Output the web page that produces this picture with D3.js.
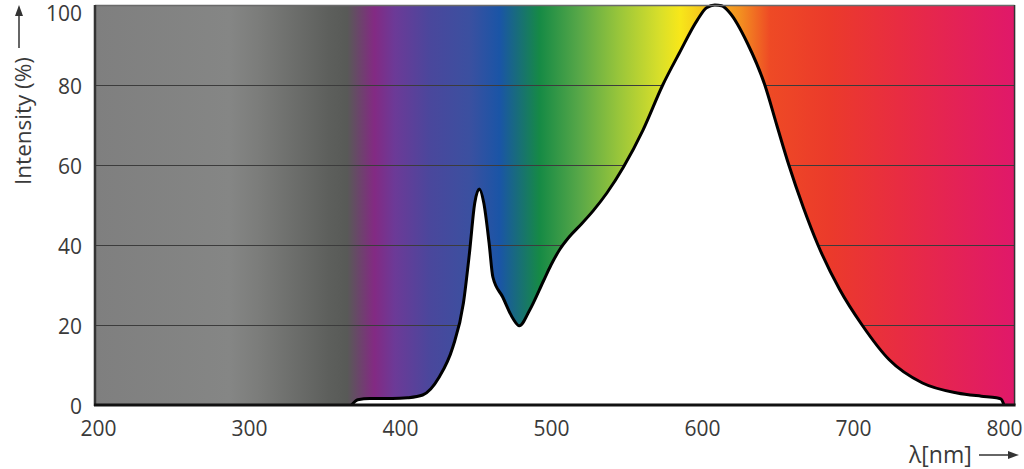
<!DOCTYPE html>
<html>
<head>
<meta charset="utf-8">
<script src="https://cdn.jsdelivr.net/npm/d3@7"></script>
<style>
  body { margin: 0; background: #fff; }
  svg { display: block; font-family: "Open Sans", sans-serif; }
</style>
</head>
<body>
<svg id="chart" width="1024" height="469"></svg>
<script>
// spectrum (wavelength in nm, relative intensity in %)
const waveNm = [368, 372, 380, 395, 405, 415, 426, 435, 442, 446, 449.5, 452.5, 455.5, 459, 461.5,
  468, 475, 479, 486, 495, 500, 506, 512, 520, 528, 537, 548, 561, 574, 585, 597, 603, 608.5, 613, 618.5,
  630, 641.6, 649.5, 657.5, 667, 676.8, 691, 706, 724, 746, 769, 785, 795, 798, 800];
const intensity = [0, 1.3, 1.6, 1.6, 1.8, 2.5, 7, 14.5, 25.5, 38, 50.5, 54, 50.5, 40.5, 32,
  27, 21.5, 19.8, 23.8, 31, 35, 39, 42, 45.2, 48.6, 53, 59.5, 68.8, 80, 88, 96.3, 99.3, 100, 99.8, 98,
  90.5, 80, 70, 60, 49.5, 40, 29, 20, 11.3, 5.5, 3, 2.2, 1.8, 1.5, 0];

// background colour band (wavelength -> colour)
const bgStopNm = [198, 287, 307, 353, 365, 383, 396.5, 420, 446, 466, 492.6, 519, 545.6, 572, 585.4,
  625, 645, 685, 731, 807];
const bgStopColor = ["#7f7f7f", "#858685", "#7b7c7a", "#5d5f5c", "#585a57", "#832a83", "#6c3a97",
  "#4a479c", "#3b50a0", "#1a55a6", "#168a45", "#58a848", "#9ac63a", "#d8df2a", "#f7e71a",
  "#f39020", "#ee4a25", "#eb3a2b", "#e82c42", "#e0186a"];

const xTicks = [200, 300, 400, 500, 600, 700, 800];
const yTicks = [0, 20, 40, 60, 80, 100];

const svg = d3.select("#chart");

const x = d3.scaleLinear().domain([200, 800]).range([98, 1004]);
const y = d3.scaleLinear().domain([0, 100]).range([405, 5]);

const xLo = 198, xHi = 807;

// gradient for the spectrum band
const grad = svg.append("defs").append("linearGradient")
    .attr("id", "spec")
    .attr("gradientUnits", "userSpaceOnUse")
    .attr("x1", x(xLo)).attr("x2", x(xHi))
    .attr("y1", 0).attr("y2", 0);

grad.selectAll("stop")
    .data(bgStopNm)
    .enter()
    .append("stop")
    .attr("offset", d => (d - xLo) / (xHi - xLo))
    .attr("stop-color", (d, i) => bgStopColor[i]);

svg.append("rect")
    .attr("x", x(xLo))
    .attr("y", y(100))
    .attr("width", x(xHi) - x(xLo))
    .attr("height", y(0) - y(100))
    .attr("fill", "url(#spec)");

// grid lines
svg.append("g")
    .selectAll("line")
    .data(yTicks.filter(v => v > 0 && v < 100))
    .enter()
    .append("line")
    .attr("x1", x(xLo))
    .attr("x2", x(xHi))
    .attr("y1", d => y(d) + 0.5)
    .attr("y2", d => y(d) + 0.5)
    .attr("stroke", "#3c3c3c")
    .attr("stroke-width", 1.2);

const pts = waveNm.map((w, i) => [w, intensity[i]]);

const area = d3.area()
    .x(d => x(d[0]))
    .y0(y(0))
    .y1(d => y(d[1]))
    .curve(d3.curveMonotoneX);

const line = d3.line()
    .x(d => x(d[0]))
    .y(d => y(d[1]))
    .curve(d3.curveMonotoneX);

svg.append("path")
    .datum(pts)
    .attr("d", area)
    .attr("fill", "#ffffff");

svg.append("path")
    .datum(pts)
    .attr("d", line)
    .attr("fill", "none")
    .attr("stroke", "#000")
    .attr("stroke-width", 3)
    .attr("stroke-linejoin", "round");

// frame
svg.append("line")
    .attr("x1", x(xLo)).attr("x2", x(xHi))
    .attr("y1", y(100) + 0.5).attr("y2", y(100) + 0.5)
    .attr("stroke", "#6a6a6a").attr("stroke-width", 1.5);
svg.append("line")
    .attr("x1", x(xHi)).attr("x2", x(xHi))
    .attr("y1", y(100)).attr("y2", y(0))
    .attr("stroke", "#333").attr("stroke-width", 1.5);
svg.append("line")
    .attr("x1", x(xLo)).attr("x2", x(xLo))
    .attr("y1", y(100)).attr("y2", y(0) + 1)
    .attr("stroke", "#333").attr("stroke-width", 2.5);
svg.append("line")
    .attr("x1", x(xLo) - 1).attr("x2", x(xHi) + 1)
    .attr("y1", y(0)).attr("y2", y(0))
    .attr("stroke", "#111").attr("stroke-width", 3);

// axes
const xAxis = svg.append("g")
    .attr("transform", `translate(0,${y(0)})`)
    .call(d3.axisBottom(x).tickValues(xTicks).tickSize(0).tickPadding(16));

const yAxis = svg.append("g")
    .attr("transform", `translate(${x(xLo)},0)`)
    .call(d3.axisLeft(y).tickValues(yTicks).tickSize(0).tickPadding(13));

[xAxis, yAxis].forEach(a => {
  a.select(".domain").remove();
  a.selectAll("text")
      .style("font-family", "'Open Sans', sans-serif")
      .style("font-size", "21px")
      .attr("fill", "#3a3a3a");
});

yAxis.selectAll("text").attr("y", d => d === 100 ? 9 : 1.5);

// axis titles with arrows
svg.append("text")
    .attr("transform", "translate(31,121) rotate(-90)")
    .attr("text-anchor", "middle")
    .style("font-size", "22.5px")
    .attr("fill", "#3a3a3a")
    .text("Intensity (%)");

svg.append("line")
    .attr("x1", 19).attr("x2", 19)
    .attr("y1", 48).attr("y2", 14)
    .attr("stroke", "#333").attr("stroke-width", 1.5);
svg.append("path")
    .attr("d", "M19,5 L15,16 L23,16 Z")
    .attr("fill", "#333");

svg.append("text")
    .attr("x", 909)
    .attr("y", 463)
    .style("font-size", "23px")
    .attr("fill", "#3a3a3a")
    .text("λ[nm]");

svg.append("line")
    .attr("x1", 979).attr("x2", 1010)
    .attr("y1", 455).attr("y2", 455)
    .attr("stroke", "#333").attr("stroke-width", 1.5);
svg.append("path")
    .attr("d", "M1019,455 L1008,451 L1008,459 Z")
    .attr("fill", "#333");
</script>
</body>
</html>
